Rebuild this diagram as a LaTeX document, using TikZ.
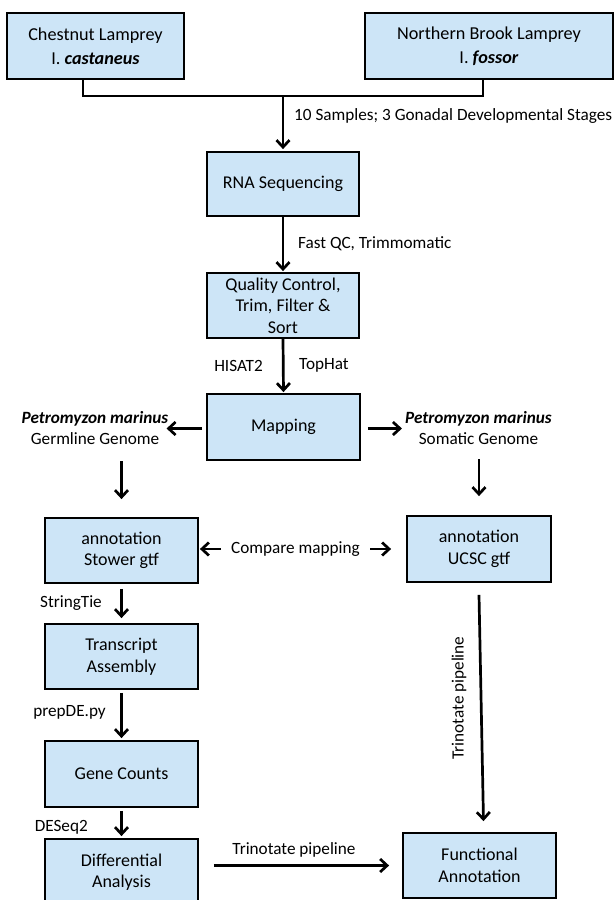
\documentclass[tikz,border=0pt]{standalone}
\usepackage{fontspec}
\setmainfont{Carlito}
\usetikzlibrary{arrows.meta}
\definecolor{boxblue}{RGB}{205,229,247}
\tikzset{
  x=1pt, y=-1pt,
  box/.style={draw=black, line width=1.8pt, fill=boxblue, align=center, inner sep=0pt,
    font=\fontsize{18}{21.5}\selectfont},
  topbox/.style={box, font=\fontsize{18.2}{24}\selectfont},
  lbl/.style={inner sep=0pt, font=\fontsize{17.2}{21}\selectfont},
  conn/.style={line width=2.7pt, line join=miter},
  arr/.style={line width=2.7pt, -{Straight Barb[length=7pt,width=13pt,line width=2.7pt]}},
  arrtwo/.style={line width=2.7pt, {Straight Barb[length=7pt,width=13pt,line width=2.7pt]}-{Straight Barb[length=7pt,width=13pt,line width=2.7pt]}},
}
\begin{document}
\begin{tikzpicture}
\useasboundingbox (0,0) rectangle (614,900);
\fill[white] (0,0) rectangle (614,900);

% boxes
\node[topbox, minimum width=177pt, minimum height=66pt] (chest) at (95.5,46) {Chestnut Lamprey\\I. \textbf{\textit{castaneus}}};
\node[topbox, minimum width=248pt, minimum height=66pt] (north) at (489,46) {Northern Brook Lamprey\\I. \textbf{\textit{fossor}}};
\node[box, minimum width=152pt, minimum height=64pt] (rna) at (283,184) {RNA Sequencing};
\node[box, minimum width=152pt, minimum height=65pt] (qc) at (283,305.5) {Quality Control,\\Trim, Filter \&\\Sort};
\node[box, minimum width=153pt, minimum height=66pt] (map) at (283.5,427) {Mapping};
\node[box, minimum width=153pt, minimum height=65pt] (ann1) at (121.5,550.5) {annotation\\Stower gtf};
\node[box, minimum width=144pt, minimum height=66pt] (ann2) at (479,549) {annotation\\UCSC gtf};
\node[box, minimum width=153pt, minimum height=65pt] (trans) at (121.5,656.5) {Transcript\\Assembly};
\node[box, minimum width=153pt, minimum height=66pt] (gene) at (121.5,774) {Gene Counts};
\node[box, minimum width=153pt, minimum height=66pt] (diff) at (121.5,872) {Differential\\Analysis};
\node[box, minimum width=153pt, minimum height=65pt] (func) at (479.5,865.5) {Functional\\Annotation};

% genome labels
\node[lbl, align=center] (germ) at (95,428.5) {\textbf{\textit{Petromyzon marinus}}\\Germline Genome};
\node[lbl, align=center] (som) at (478.5,428.5) {\textbf{\textit{Petromyzon marinus}}\\Somatic Genome};

% top connector
\coordinate (junc) at (283,96);
\draw[conn] ([xshift=-12.5pt]chest.south) |- ([xshift=-6pt]north.south |- junc) -- ([xshift=-6pt]north.south);
\draw[arr, shorten >=2pt] (junc) -- (junc |- rna.north);
\node[lbl, anchor=west] (l1) at (294,116) {10 Samples; 3 Gonadal Developmental Stages};

\draw[arr, shorten >=1pt] (rna.south) -- (qc.north);
\node[lbl, anchor=west] (l2) at (298,244) {Fast QC, Trimmomatic};

\draw[arr, shorten >=1pt] (qc.south) -- (map.north);
\node[lbl, anchor=east] (l3) at (263,366) {HISAT2};
\node[lbl, anchor=west] (l4) at (299,365) {TopHat};

\draw[arr] ([xshift=-4pt]map.west |- germ.east) -- ([xshift=-2pt]germ.east);
\draw[arr] ([xshift=7pt]map.east |- som.west) -- ([xshift=-3pt]som.west);

\draw[arr] ([yshift=-16pt]germ.south -| ann1.north) -- ([yshift=18pt]ann1.north);
\draw[arr] ([yshift=-14pt]som.south -| ann2.north) -- ([yshift=19pt]ann2.north);

\draw[arrtwo] ([xshift=1pt]ann1.east |- ann2.west) -- ([xshift=-15pt]ann2.west)
  node[midway, lbl, fill=white, inner xsep=10pt, inner ysep=2pt] (cmp) {Compare mapping};

\draw[arr] ([yshift=-5pt]ann1.south) -- ([yshift=5pt]trans.north);
\node[lbl, anchor=east] (l5) at (102,603) {StringTie};
\draw[arr] ([yshift=-3pt]trans.south) -- ([yshift=2pt]gene.north);
\node[lbl, anchor=east] (l6) at (106,712) {prepDE.py};
\draw[arr] ([yshift=-3pt]gene.south) -- ([yshift=2pt]diff.north);
\node[lbl, anchor=east] (l7) at (88,827) {DESeq2};

\draw[arr] ([xshift=15pt]diff.east |- func.west) -- ([xshift=-13pt]func.west);
\node[lbl] (l8) at (294,850) {Trinotate pipeline};

\draw[arr] ([yshift=-12pt]ann2.south) -- ([xshift=4pt,yshift=11pt]func.north);
\node[lbl, rotate=90] (l9) at (459,698) {Trinotate pipeline};
\end{tikzpicture}
\end{document}
